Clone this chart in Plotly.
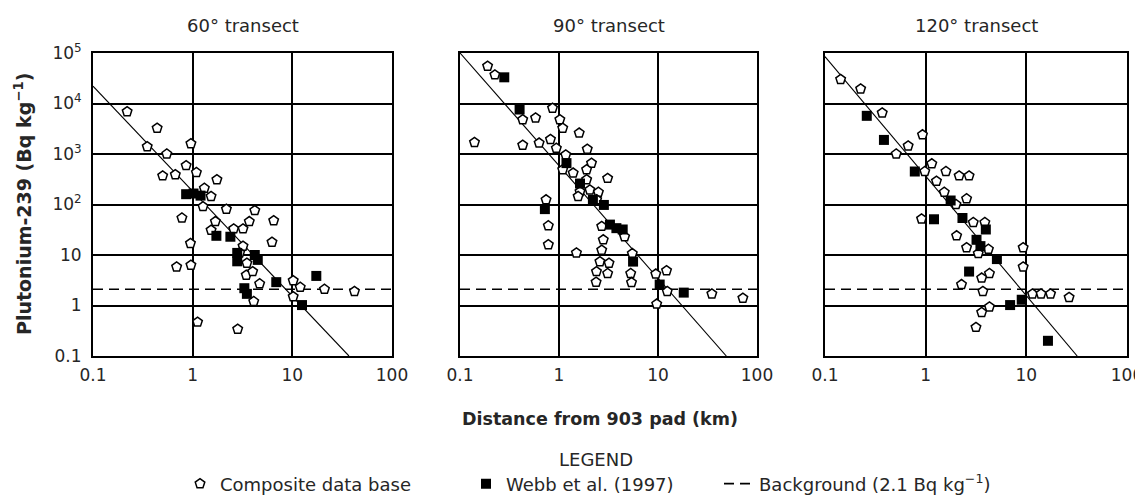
import plotly.graph_objects as go

# ---------------- data ----------------
# 60 degree transect
comp60_x = [0.22, 0.44, 0.35, 0.55, 0.96, 0.50, 0.67, 0.86, 1.09, 1.75, 1.31, 1.53, 1.27, 2.18, 1.69, 1.53,
            0.78, 0.95, 0.69, 0.96, 2.58, 3.2, 3.7, 4.2, 6.5, 6.25, 3.2, 2.96, 3.5, 3.45, 4.0, 4.7, 4.1,
            10.2, 12.0, 10.2, 21.0, 42.0, 1.12, 2.83]
comp60_y = [6900, 3250, 1400, 1000, 1600, 370, 390, 590, 430, 310, 210, 145, 91, 81, 46, 31,
            54, 17, 5.8, 6.3, 33, 33, 46, 76, 48, 18, 15, 11, 6.9, 4.0, 4.7, 2.7, 1.2,
            3.1, 2.3, 1.5, 2.1, 1.9, 0.47, 0.34]
webb60_x = [0.86, 1.02, 1.2, 1.73, 2.39, 2.8, 2.8, 4.2, 4.5, 6.9, 17.4, 12.5, 3.3, 3.5]
webb60_y = [160, 165, 150, 24, 23, 7.5, 11, 10, 8, 2.9, 3.85, 1.02, 2.2, 1.7]

# 90 degree transect
comp90_x = [0.19, 0.225, 0.14, 0.43, 0.58, 0.43, 0.63, 0.86, 1.02, 1.09, 1.6, 0.82, 0.94, 1.93, 1.17,
            2.13, 1.9, 1.09, 1.39, 3.1, 1.9, 1.63, 2.05, 2.5, 1.56, 2.4, 0.74, 0.78, 0.78, 1.5,
            2.7, 2.8, 2.7, 2.59, 3.2, 2.39, 3.1, 2.37, 4.6, 5.5, 5.3, 5.4, 9.5, 12.2, 9.7, 12.4, 35, 72]
comp90_y = [55000, 37000, 1700, 4800, 5200, 1500, 1650, 8100, 4800, 3250, 2600, 1950, 1300, 1250, 960,
            660, 490, 490, 420, 330, 310, 180, 195, 175, 145, 125, 124, 38, 16, 11,
            37, 20, 12.5, 7.4, 6.9, 4.7, 4.3, 2.9, 23, 10.7, 4.3, 2.85, 4.2, 4.9, 1.07, 1.9, 1.7, 1.4]
webb90_x = [0.28, 0.40, 0.72, 1.19, 1.63, 2.2, 2.84, 3.27, 4.4, 3.8, 5.6, 10.4, 18.2]
webb90_y = [33000, 7600, 81, 660, 260, 124, 98, 40, 32, 34, 7.4, 2.6, 1.8]

# 120 degree transect
comp120_x = [0.143, 0.226, 0.37, 0.93, 0.67, 0.51, 1.15, 0.98, 1.59, 2.15, 2.7, 1.28, 1.53, 2.55, 2.0,
             0.91, 2.97, 3.87, 2.03, 2.55, 3.33, 4.2, 9.3, 9.3, 4.3, 3.6, 2.27, 3.7, 4.3, 3.6, 3.16,
             11.5, 14.0, 17.4, 26.6]
comp120_y = [30000, 19500, 6500, 2400, 1450, 1000, 640, 450, 450, 370, 370, 290, 175, 130, 100,
             52, 44, 44, 24, 14, 10.7, 13, 14, 5.8, 4.3, 3.5, 2.6, 1.9, 0.94, 0.73, 0.37,
             1.7, 1.7, 1.7, 1.45]
webb120_x = [0.26, 0.385, 0.78, 1.77, 1.21, 2.32, 3.96, 3.2, 3.5, 5.1, 2.7, 6.9, 9.0, 16.4]
webb120_y = [5700, 1900, 450, 120, 51, 54, 32, 20, 15, 8.3, 4.7, 1.02, 1.3, 0.20]

# regression lines (end points)
fit60_x, fit60_y = [0.1, 37], [22000, 0.1]
fit90_x, fit90_y = [0.1, 49], [100000, 0.1]
fit120_x, fit120_y = [0.1, 32], [85000, 0.1]

background = 2.1
bg_x = [0.1, 100]

panel_titles = ["60° transect", "90° transect", "120° transect"]
x_tickvals = [0.1, 1, 10, 100]
x_ticktext = ["0.1", "1", "10", "100"]
y_tickvals = [0.1, 1, 10, 100, 1000, 10000, 100000]
y_ticktext = ["0.1", "1", "10", "10<sup>2</sup>", "10<sup>3</sup>", "10<sup>4</sup>", "10<sup>5</sup>"]

panels = [
    (comp60_x, comp60_y, webb60_x, webb60_y, fit60_x, fit60_y),
    (comp90_x, comp90_y, webb90_x, webb90_y, fit90_x, fit90_y),
    (comp120_x, comp120_y, webb120_x, webb120_y, fit120_x, fit120_y),
]

# ---------------- layout ----------------
# the page body has an 8 px margin, so the figure is sized to fit inside the window
W, H = 1135, 494
FONT = "DejaVu Sans, Verdana, sans-serif"
TXT = "#262626"


def fx_(p):
    return p / W


def fy_(p):
    return 1 - p / H


x_domains = [(fx_(85), fx_(384)), (fx_(452), fx_(749)), (fx_(817), fx_(1119))]
y_domain = (fy_(348), fy_(45))

fig = go.Figure()

for i, (cx, cy, wx, wy, lx, ly) in enumerate(panels):
    xa = "x" if i == 0 else f"x{i+1}"
    ya = "y" if i == 0 else f"y{i+1}"
    fig.add_trace(go.Scatter(x=bg_x, y=[background, background], mode="lines", xaxis=xa, yaxis=ya,
                             line=dict(color="black", width=1.7, dash="10px,6px"),
                             name="Background (2.1 Bq kg<sup>−1</sup>)", showlegend=(i == 0),
                             legend="legend3"))
    fig.add_trace(go.Scatter(x=lx, y=ly, mode="lines", xaxis=xa, yaxis=ya,
                             line=dict(color="black", width=1.1), showlegend=False))
    fig.add_trace(go.Scatter(x=cx, y=cy, mode="markers", xaxis=xa, yaxis=ya,
                             marker=dict(symbol="pentagon", size=10, color="white",
                                         line=dict(color="black", width=1.5)),
                             name="Composite data base", showlegend=(i == 0), legend="legend"))
    fig.add_trace(go.Scatter(x=wx, y=wy, mode="markers", xaxis=xa, yaxis=ya,
                             marker=dict(symbol="square", size=10, color="black",
                                         line=dict(color="black", width=0)),
                             name="Webb et al. (1997)", showlegend=(i == 0), legend="legend2"))

axis_common = dict(type="log", showline=True, mirror=True, linecolor="black", linewidth=2,
                   showgrid=True, gridcolor="black", gridwidth=1.8, zeroline=False,
                   ticks="", automargin=False, ticklabeloverflow="allow",
                   tickfont=dict(family=FONT, size=17, color=TXT))

legend_common = dict(orientation="h", xanchor="left", y=fy_(476), yanchor="middle",
                     font=dict(family=FONT, size=18, color=TXT), itemwidth=30,
                     bgcolor="rgba(0,0,0,0)")

layout = dict(
    width=W, height=H, margin=dict(l=0, r=0, t=0, b=0, autoexpand=False),
    paper_bgcolor="white", plot_bgcolor="white",
    font=dict(family=FONT, color=TXT),
    showlegend=True,
    legend=dict(legend_common, x=fx_(172)),
    legend2=dict(legend_common, x=fx_(458)),
    legend3=dict(legend_common, x=fx_(711)),
)
for i in range(3):
    sx = "" if i == 0 else str(i + 1)
    layout[f"xaxis{sx}"] = dict(axis_common, domain=x_domains[i], range=[-1, 2],
                                tickvals=x_tickvals, ticktext=x_ticktext, ticklabelstandoff=3,
                                anchor=f"y{sx}")
    layout[f"yaxis{sx}"] = dict(axis_common, domain=y_domain, range=[-1, 5],
                                tickvals=y_tickvals, ticktext=y_ticktext, ticklabelstandoff=6,
                                showticklabels=(i == 0), anchor=f"x{sx}")

fig.update_layout(**layout)

annotations = []
for i, t in enumerate(panel_titles):
    cx = (x_domains[i][0] + x_domains[i][1]) / 2
    annotations.append(dict(text=t, x=cx, y=fy_(17), xref="paper", yref="paper",
                            xanchor="center", yanchor="middle",
                            showarrow=False, font=dict(family=FONT, size=18, color=TXT)))
annotations.append(dict(text="<b>Plutonium-239 (Bq kg<sup>−1</sup>)</b>", x=fx_(15), y=fy_(196),
                        xref="paper", yref="paper", xanchor="center", yanchor="middle",
                        textangle=-90, showarrow=False,
                        font=dict(family=FONT, size=19, color=TXT)))
annotations.append(dict(text="<b>Distance from 903 pad (km)</b>", x=fx_(592), y=fy_(411),
                        xref="paper", yref="paper", xanchor="center", yanchor="middle",
                        showarrow=False, font=dict(family=FONT, size=17.5, color=TXT)))
annotations.append(dict(text="LEGEND", x=fx_(588), y=fy_(451), xref="paper", yref="paper",
                        xanchor="center", yanchor="middle",
                        showarrow=False, font=dict(family=FONT, size=18, color=TXT)))
fig.update_layout(annotations=annotations)

fig.write_html("out.html")
